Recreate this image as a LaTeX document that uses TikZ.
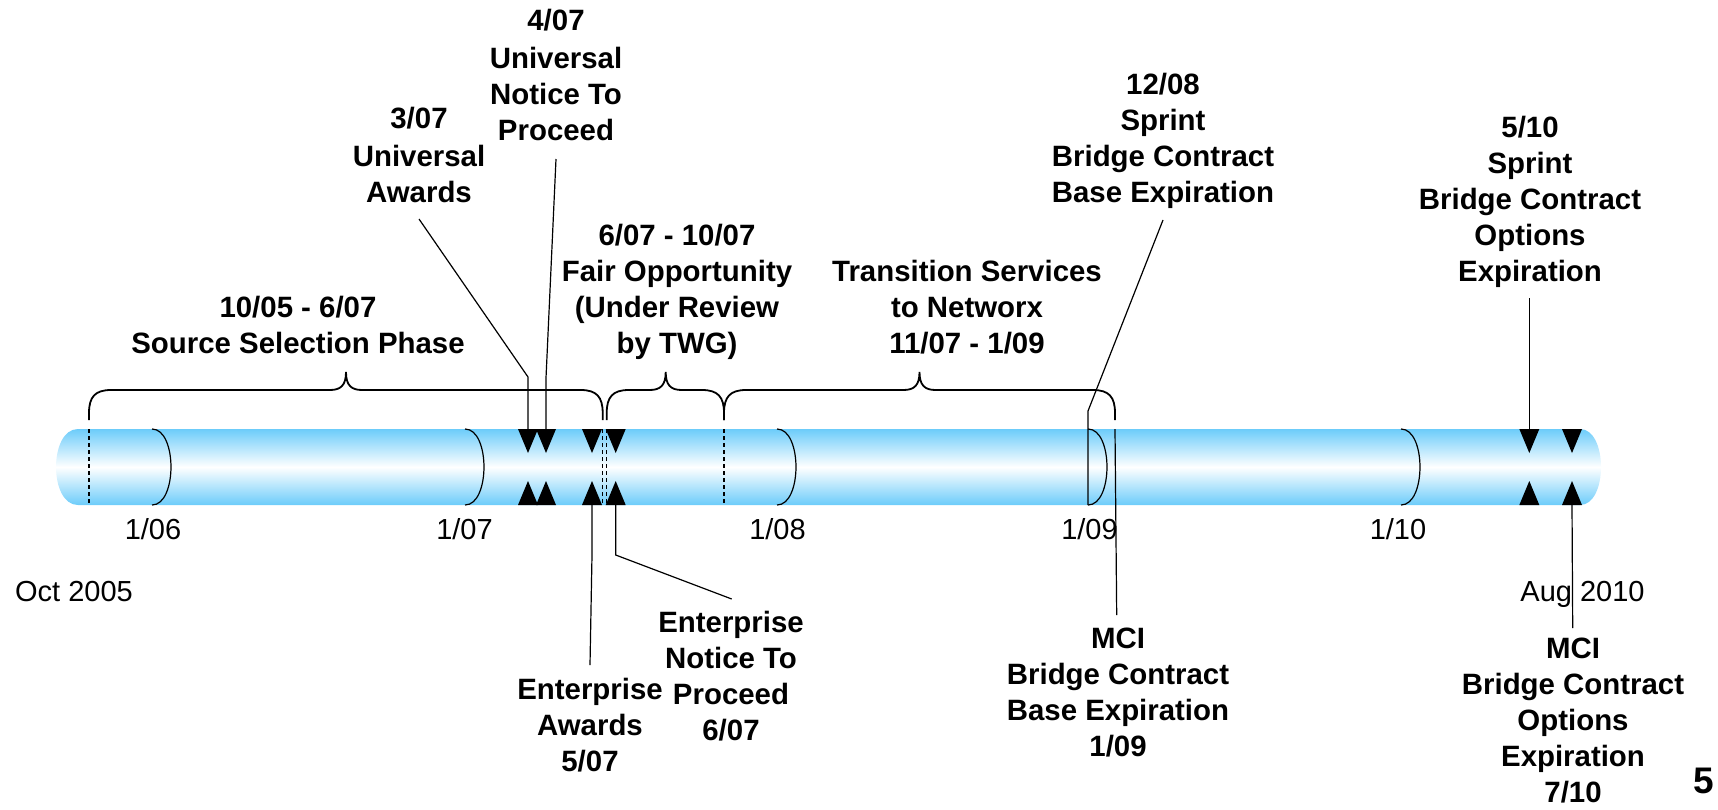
\documentclass[tikz,border=0pt]{standalone}
\usepackage{fontspec}
\setmainfont{Liberation Sans}
\definecolor{tubeblue}{RGB}{108,204,250}
\begin{document}
\begin{tikzpicture}[x=0.5pt,y=-0.5pt,
  lbl/.style={font=\fontsize{14.7}{18}\selectfont\bfseries, align=center, inner sep=0pt, anchor=base},
  tick/.style={font=\fontsize{14.5}{18}\selectfont, inner sep=0pt, anchor=base},
  conn/.style={draw=black, line width=0.6pt},
  brc/.style={draw=black, line width=0.9pt},
  yr/.style={draw=black, line width=0.6pt},
  dsh/.style={draw=black, line width=0.6pt, dash pattern=on 2pt off 1.5pt},
  tri/.style={fill=black}]
\useasboundingbox (0,0) rectangle (1718,809);

% tube
\shade[top color=tubeblue, bottom color=tubeblue, middle color=white]
  (78,429) -- (1580,429) .. controls (1608,429) and (1608,505) .. (1580,505)
  -- (78,505) .. controls (48.7,505) and (48.7,429) .. (78,429) -- cycle;

% year arcs
\foreach \x in {152,465,777,1088,1401}
  \draw[yr] (\x,429) .. controls (\x+25.3,429) and (\x+25.3,505) .. (\x,505);

% dashed phase boundaries
\foreach \x in {89,602.3,606.7,724}
  \draw[dsh] (\x,429) -- (\x,505);

% braces
\newcommand{\mybrace}[3]{%
  \draw[brc] (#1,420) -- (#1,413) .. controls (#1,397) and (#1+6,390) .. (#1+22,390)
   -- (#2-16,390) .. controls (#2-5,390) and (#2,385) .. (#2,372)
   .. controls (#2,385) and (#2+5,390) .. (#2+16,390)
   -- (#3-22,390) .. controls (#3-6,390) and (#3,397) .. (#3,413) -- (#3,420);}
\mybrace{89}{346}{602.7}
\mybrace{606.7}{665.7}{724}
\mybrace{724}{919.5}{1115}

% triangles (event markers)
\foreach \n/\x in {ua/528,un/546,ea/592,en/615.7,sp/1529.3,mo/1572}{
  \fill[tri] (\x-10,429) -- (\x+10,429) -- (\x,453) -- cycle;
  \fill[tri] (\x-10,505) -- (\x+10,505) -- (\x,481) -- cycle;
  \coordinate (\n-top) at (\x,429);
  \coordinate (\n-bot) at (\x,505);
}

% labels above
\node[lbl] (src) at (298,353) {10/05 - 6/07\\Source Selection Phase};
\node[lbl] (u307) at (419,202) {3/07\\[1pt]Universal\\Awards};
\node[lbl] (u407) at (556,140.5) {4/07\\[1pt]Universal\\Notice To\\Proceed};
\node[lbl] (fair) at (677,353) {6/07 - 10/07\\Fair Opportunity\\(Under Review\\by TWG)};
\node[lbl] (trans) at (967,353.3) {Transition Services\\to Networx\\11/07 - 1/09};
\node[lbl] (s1208) at (1163,202.3) {12/08\\Sprint\\Bridge Contract\\Base Expiration};
\node[lbl] (s510) at (1530,281.7) {5/10\\Sprint\\Bridge Contract\\Options\\Expiration};

% labels below
\node[lbl] (ealbl) at (590,771.7) {Enterprise\\Awards\\5/07};
\node[lbl] (enlbl) at (731,740) {Enterprise\\Notice To\\Proceed\\6/07};
\node[lbl] (m109) at (1118,756) {MCI\\Bridge Contract\\Base Expiration\\1/09};
\node[lbl] (m710) at (1573,802.7) {MCI\\Bridge Contract\\Options\\Expiration\\7/10};

% tick labels
\node[tick] (t06) at (153,539.3) {1/06};
\node[tick] (t07) at (464.5,539.3) {1/07};
\node[tick] (t08) at (777.5,539.3) {1/08};
\node[tick] (t09) at (1089.5,539.3) {1/09};
\node[tick] (t10) at (1398,539.3) {1/10};
\node[tick] (oct) at (74,601.7) {Oct 2005};
\node[tick] (aug) at (1582.5,601.7) {Aug 2010};
\node[font=\fontsize{18.5}{20}\selectfont\bfseries, inner sep=0pt, anchor=base] (pg) at (1704,793) {5};

% connector ends
\coordinate (c1) at (419,219);
\coordinate (c2) at (556,159);
\coordinate (c3) at (1163,220);
\coordinate (c4) at (1529.3,298);
\coordinate (c5) at (590,665);
\coordinate (c6) at (731.7,599);
\coordinate (c7) at (1116.7,615);
\coordinate (c8) at (1572.7,628);
\coordinate (m09top) at (1115,429);

\draw[conn] (c1) -- (528,377) -- (ua-top);
\draw[conn] (c2) -- (546,378) -- (un-top);
\draw[conn] (c3) -- (1088,411) -- (1088,505);
\draw[conn] (c4) -- (sp-top);
\draw[conn] (c5) -- (592,555) -- (ea-bot);
\draw[conn] (c6) -- (615.7,555) -- (en-bot);
\draw[conn] (c7) -- (m09top);
\draw[conn] (c8) -- (mo-bot);
\end{tikzpicture}
\end{document}
